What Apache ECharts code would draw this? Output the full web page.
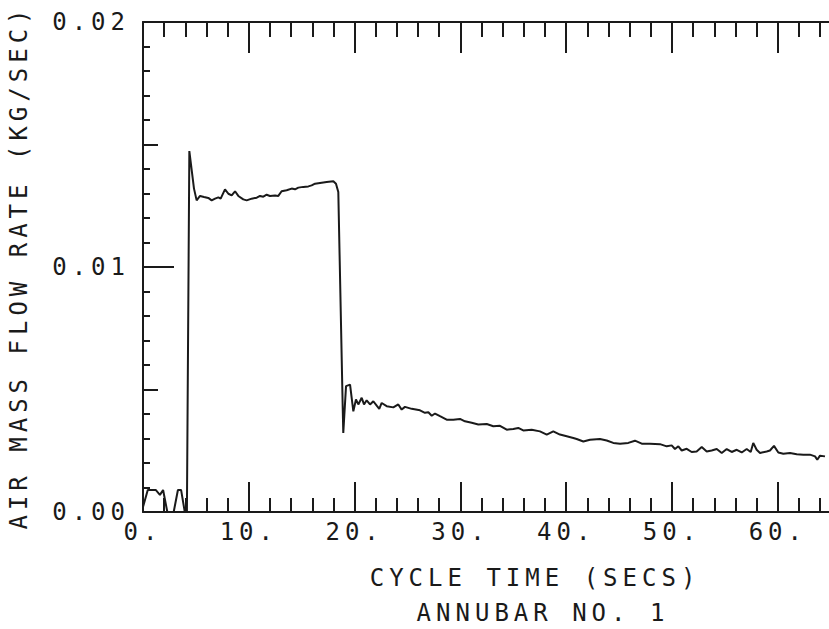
<!DOCTYPE html>
<html>
<head>
<meta charset="utf-8">
<script src="https://cdn.jsdelivr.net/npm/echarts@6/dist/echarts.min.js"></script>
<style>
html, body { margin: 0; padding: 0; background: #fff; }
#chart { width: 829px; height: 629px; }
/* plotter style wide lettering */
#chart text { letter-spacing: 5px; }
</style>
</head>
<body>
<div id="chart"></div>
<script>
// cycle time (secs)
const timeSecs = [
  0, 0.45, 1.2, 1.6, 1.9, 2.3, 2.9, 3.3, 3.6, 3.95, 4.15, 4.38, 4.82, 5.07, 5.39, 5.77,
  6.17, 6.49, 6.81, 7.12, 7.34, 7.75, 8.07, 8.38, 8.70, 9.01, 9.48, 9.80, 10.27, 10.75,
  11.06, 11.37, 11.69, 12.0, 12.48, 12.79, 13.1, 13.58, 14.05, 14.37, 14.68, 15.15,
  15.63, 15.94, 16.26, 16.73, 17.36, 17.99, 18.24, 18.46, 18.88, 18.93, 19.19, 19.57,
  19.88, 20.13, 20.35, 20.67, 20.89, 21.14, 21.46, 21.77, 22.09, 22.33, 22.56, 23.03,
  23.66, 24.13, 24.45, 24.76, 25.4, 26.18, 26.65, 26.97, 27.29, 27.6, 28.07, 28.7,
  29.33, 29.96, 30.43, 31.07, 31.69, 32.49, 33.11, 33.74, 34.38, 35.0, 35.47, 35.94,
  36.74, 37.52, 38.16, 38.78, 39.41, 40.05, 40.67, 40.99, 41.62, 42.25, 43.19, 43.83,
  44.45, 45.09, 45.87, 46.5, 47.14, 47.92, 48.87, 49.5, 49.97, 50.28, 50.6, 50.92,
  51.39, 51.86, 52.33, 52.81, 53.28, 53.75, 54.23, 54.7, 55.17, 55.64, 56.12, 56.59,
  57.06, 57.44, 57.68, 58.0, 58.32, 58.95, 59.26, 59.64, 60.05, 60.52, 61.15, 61.79,
  62.41, 63.04, 63.52, 63.73, 63.99, 64.46
];
// air mass flow rate (kg/sec)
const flowRate = [
  0.0002, 0.0009, 0.0009, 0.0007, 0.0009, 0.0000, 0.0000, 0.0009, 0.0009, 0.0000, 0.0000, 0.01473, 0.0132, 0.01272, 0.0129, 0.01286,
  0.01282, 0.01272, 0.01279, 0.01284, 0.01279, 0.01317, 0.01299, 0.01292, 0.01309, 0.0129, 0.01276, 0.01272, 0.01279, 0.01283,
  0.0129, 0.01287, 0.01295, 0.0129, 0.01292, 0.0129, 0.01309, 0.01313, 0.0132, 0.01317, 0.01324, 0.01327,
  0.01329, 0.01333, 0.0134, 0.01343, 0.01347, 0.0135, 0.0134, 0.01306, 0.00418, 0.00323, 0.00514, 0.0052,
  0.00411, 0.00459, 0.00439, 0.00466, 0.00439, 0.00456, 0.00439, 0.00452, 0.00434, 0.00421, 0.00445, 0.00432,
  0.00427, 0.00439, 0.00418, 0.00429, 0.00421, 0.00415, 0.00405, 0.00407, 0.00393, 0.00402, 0.00391, 0.00377,
  0.00377, 0.0038, 0.0037, 0.00364, 0.00357, 0.00359, 0.0035, 0.00352, 0.00336, 0.00339, 0.00343, 0.00333,
  0.00336, 0.00329, 0.00316, 0.00329, 0.00316, 0.00309, 0.00302, 0.00298, 0.00288, 0.00295, 0.00298, 0.00292,
  0.00282, 0.00279, 0.00282, 0.00291, 0.00279, 0.00279, 0.00277, 0.00268, 0.00272, 0.00257, 0.00268, 0.00251,
  0.00258, 0.00245, 0.00247, 0.00265, 0.00247, 0.00251, 0.00257, 0.00241, 0.00257, 0.00245, 0.00254, 0.00243,
  0.00257, 0.00245, 0.00282, 0.00254, 0.00241, 0.00247, 0.00251, 0.0027, 0.00243, 0.00238, 0.00241, 0.00236,
  0.00234, 0.00234, 0.00227, 0.00213, 0.0023, 0.00227
];
const xTitle = 'CYCLE TIME (SECS)';
const yTitle = 'AIR MASS FLOW RATE (KG/SEC)';
const caption = 'ANNUBAR NO. 1';

const font = 'DejaVu Sans Mono';
const ink = '#1a1a1a';

const chart = echarts.init(document.getElementById('chart'), null, { renderer: 'svg' });

const seriesData = timeSecs.map((t, i) => [t, flowRate[i]]);

chart.setOption({
  animation: false,
  backgroundColor: '#fff',
  grid: {
    left: 143,
    top: 22,
    width: 740.6, // 0..70 s, the plot runs off the right edge of the page
    height: 490,
    outerBoundsMode: 'none',
    containLabel: false
  },
  xAxis: [{
    type: 'value',
    position: 'bottom',
    min: 0,
    max: 70,
    interval: 10,
    axisLine: { onZero: false, lineStyle: { color: ink, width: 2 } },
    axisTick: { inside: true, length: 30, lineStyle: { color: ink, width: 2 } },
    minorTick: { show: true, splitNumber: 5, length: 14, lineStyle: { color: ink, width: 2 } },
    splitLine: { show: false },
    axisLabel: {
      color: ink,
      fontFamily: font,
      fontSize: 24,
      margin: 8,
      showMaxLabel: false,
      formatter: v => (v >= 70 ? '' : v + '.')
    }
  }, {
    type: 'value',
    position: 'top',
    min: 0,
    max: 70,
    interval: 10,
    axisLine: { onZero: false, lineStyle: { color: ink, width: 2 } },
    axisTick: { inside: true, length: 31, lineStyle: { color: ink, width: 2 } },
    minorTick: { show: true, splitNumber: 5, length: 15, lineStyle: { color: ink, width: 2 } },
    splitLine: { show: false },
    axisLabel: { show: false }
  }],
  yAxis: [{
    type: 'value',
    position: 'left',
    min: 0,
    max: 0.02,
    interval: 0.01,
    name: yTitle,
    nameLocation: 'middle',
    nameGap: 112,
    nameTextStyle: { color: ink, fontFamily: font, fontSize: 24 },
    axisLine: { onZero: false, lineStyle: { color: ink, width: 2 } },
    axisTick: { inside: true, length: 31, lineStyle: { color: ink, width: 2 } },
    minorTick: { show: true, splitNumber: 10, length: 7, lineStyle: { color: ink, width: 2 } },
    splitLine: { show: false },
    axisLabel: {
      color: ink,
      fontFamily: font,
      fontSize: 24,
      margin: 13,
      formatter: v => v.toFixed(2)
    }
  }, {
    // half-way ticks (0.005, 0.015)
    type: 'value',
    position: 'left',
    offset: 0,
    min: 0,
    max: 0.02,
    interval: 0.005,
    axisLine: { show: false, onZero: false },
    axisTick: { inside: true, length: 15, lineStyle: { color: ink, width: 2 } },
    splitLine: { show: false },
    axisLabel: { show: false }
  }],
  graphic: [{
    type: 'text',
    x: 535,
    y: 578,
    style: {
      text: xTitle,
      fill: ink,
      font: '24px "' + font + '"',
      textAlign: 'center',
      textVerticalAlign: 'middle'
    }
  }, {
    type: 'text',
    x: 543,
    y: 613,
    style: {
      text: caption,
      fill: ink,
      font: '24px "' + font + '"',
      textAlign: 'center',
      textVerticalAlign: 'middle'
    }
  }],
  series: [{
    type: 'line',
    xAxisIndex: 0,
    yAxisIndex: 0,
    showSymbol: false,
    smooth: false,
    clip: true,
    lineStyle: { color: ink, width: 2 },
    data: seriesData
  }]
});
</script>
</body>
</html>
